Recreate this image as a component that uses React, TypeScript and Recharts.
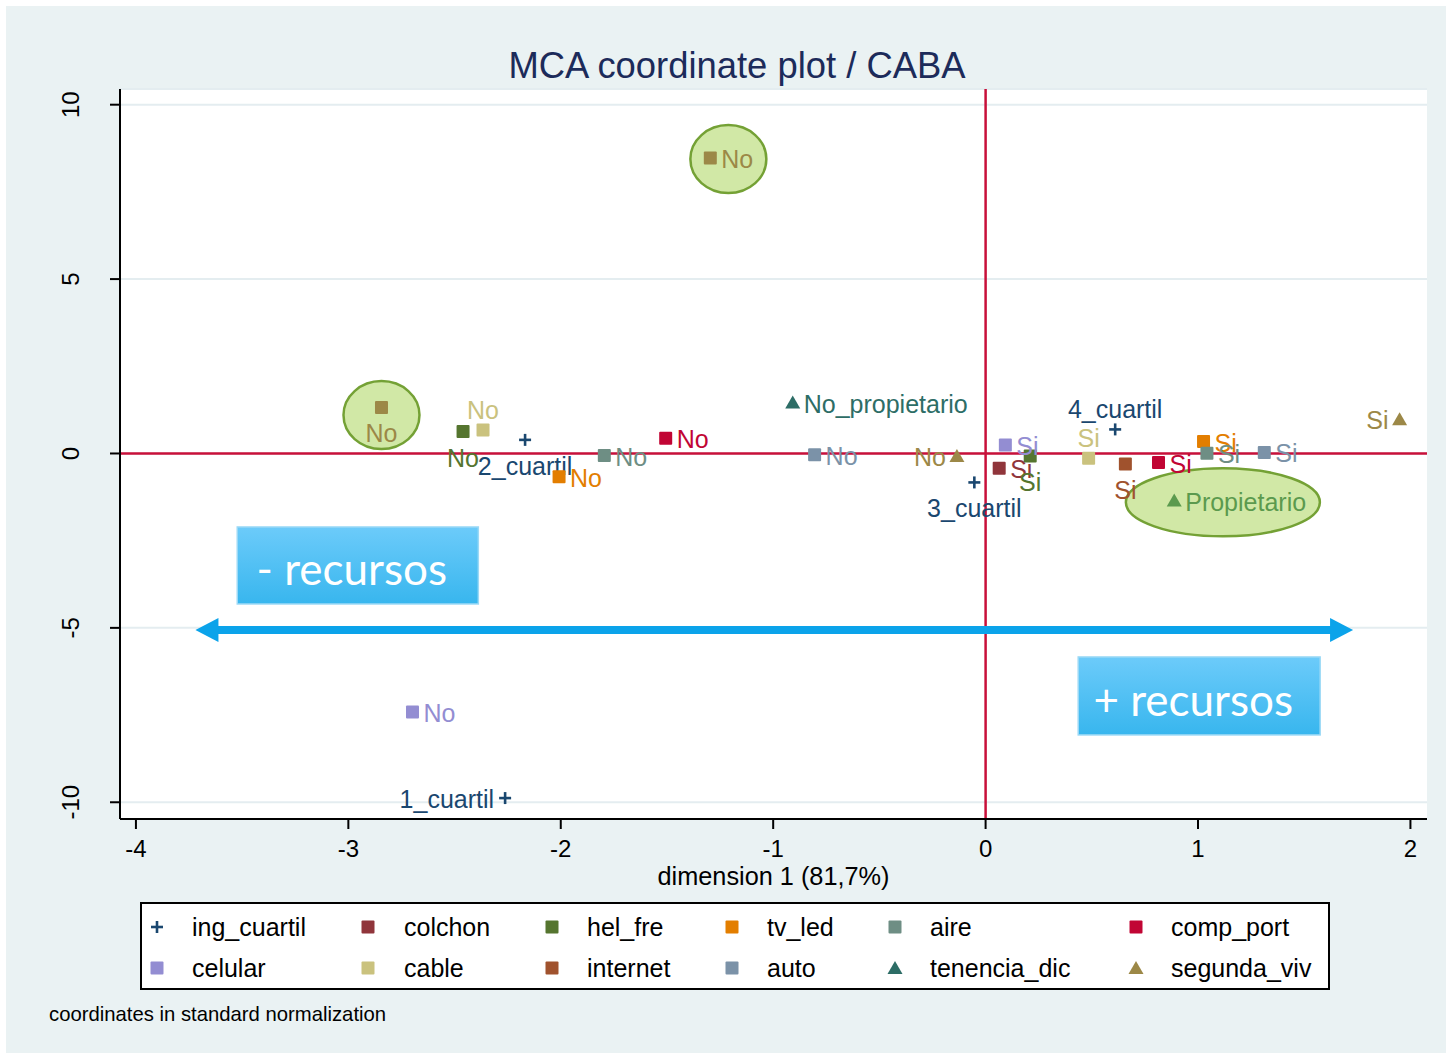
import React from "react";
import {
  ScatterChart,
  Scatter,
  XAxis,
  YAxis,
  CartesianGrid,
  ReferenceLine,
  ReferenceArea,
  ReferenceDot,
  Legend,
  Label,
} from "recharts";

// MCA coordinates
const variables = [
  "ing_cuartil", "colchon", "hel_fre", "tv_led", "aire", "comp_port",
  "celular", "cable", "internet", "auto", "tenencia_dic", "segunda_viv",
];
const levels = [
  ["1_cuartil", "2_cuartil", "3_cuartil", "4_cuartil"],
  ["No", "Si"], ["No", "Si"], ["No", "Si"], ["No", "Si"], ["No", "Si"],
  ["No", "Si"], ["No", "Si"], ["No", "Si"], ["No", "Si"],
  ["No_propietario", "Propietario"],
  ["No", "Si"],
];
const dim1 = [
  [-2.262, -2.168, -0.053, 0.61],
  [-1.296, 0.064],
  [-2.46, 0.21],
  [-2.008, 1.026],
  [-1.795, 1.042],
  [-1.506, 0.814],
  [-2.698, 0.093],
  [-2.366, 0.485],
  [-2.844, 0.658],
  [-0.805, 1.312],
  [-0.908, 0.888],
  [-0.135, 1.949],
];
const dim2 = [
  [-9.88, 0.39, -0.83, 0.69],
  [8.47, -0.42],
  [0.63, -0.07],
  [-0.67, 0.34],
  [-0.06, 0.01],
  [0.44, -0.26],
  [-7.41, 0.24],
  [0.67, -0.14],
  [1.32, -0.3],
  [-0.04, 0.03],
  [1.46, -1.35],
  [-0.07, 0.98],
];
const xTicks = [-4, -3, -2, -1, 0, 1, 2];
const yTicks = [-10, -5, 0, 5, 10];

// annotations (data coordinates)
const highlightX = [-1.211, -2.844, 1.117];
const highlightY = [8.44, 1.1, -1.4];
const arrowFrom = -3.72;
const arrowTo = 1.73;
const arrowY = -5.06;
const boxTexts = ["- recursos", "+ recursos"];
const boxX = [[-3.523, -2.388], [0.436, 1.575]];
const boxY = [[-4.315, -2.107], [-8.07, -5.834]];

// styles
const FONT = '"Liberation Sans", Arial, Helvetica, sans-serif';
const seriesColors = [
  "#1a476f", "#90353b", "#55752f", "#e37e00", "#6e8e84", "#c10534",
  "#938dd2", "#cac27e", "#a0522d", "#7b92a8", "#2d6d66", "#9c8847",
];
const markerKind = [
  "plus", "square", "square", "square", "square", "square",
  "square", "square", "square", "square", "triangle", "triangle",
];
const labelSide = [
  ["left", "below", "below", "above"],
  ["right", "right"],
  ["below", "below"],
  ["right", "right"],
  ["right", "right"],
  ["right", "right"],
  ["right", "right"],
  ["above", "above"],
  ["below", "below"],
  ["right", "right"],
  ["right", "right"],
  ["left", "left"],
];
const colorOverride: Record<string, string> = {
  "colchon:No": "#9c8847",
  "internet:No": "#9c8847",
  "tenencia_dic:Propietario": "#5b9a4e",
};
const highlightSize = [[38, 34], [38, 34], [97, 34]];
const refRed = "#c8103a";
const arrowBlue = "#0ba3ea";

function drawMark(kind: string, cx: number, cy: number, color: string) {
  if (kind === "plus") {
    return (
      <g>
        <line x1={cx - 6} y1={cy} x2={cx + 6} y2={cy} stroke={color} strokeWidth={2.6} />
        <line x1={cx} y1={cy - 6} x2={cx} y2={cy + 6} stroke={color} strokeWidth={2.6} />
      </g>
    );
  }
  if (kind === "triangle") {
    return (
      <polygon
        points={`${cx},${cy - 7} ${cx + 7.5},${cy + 6} ${cx - 7.5},${cy + 6}`}
        fill={color}
      />
    );
  }
  return <rect x={cx - 6.5} y={cy - 6.5} width={13} height={13} rx={1} fill={color} />;
}

function makeShape(kind: string) {
  return (props: any) => {
    const { cx, cy, payload } = props;
    const color = payload.color;
    let tx = cx + 11;
    let ty = cy + 1;
    let anchor: "start" | "middle" | "end" = "start";
    if (payload.side === "left") {
      tx = cx - 11;
      anchor = "end";
    } else if (payload.side === "above") {
      tx = cx;
      ty = cy - 20;
      anchor = "middle";
    } else if (payload.side === "below") {
      tx = cx;
      ty = cy + 26;
      anchor = "middle";
    }
    return (
      <g>
        {drawMark(kind, cx, cy, color)}
        <text
          x={tx}
          y={ty}
          textAnchor={anchor}
          dominantBaseline="central"
          fontSize={25}
          fontFamily={FONT}
          fill={color}
        >
          {payload.name}
        </text>
      </g>
    );
  };
}

const seriesData = variables.map((v, i) =>
  levels[i].map((name, j) => ({
    x: dim1[i][j],
    y: dim2[i][j],
    name,
    side: labelSide[i][j],
    color: colorOverride[`${v}:${name}`] ?? seriesColors[i],
  }))
);

const YTick = (props: any) => {
  const { y, payload } = props;
  const bx = 79;
  return (
    <text
      x={bx}
      y={y}
      transform={`rotate(-90 ${bx} ${y})`}
      textAnchor="middle"
      fontSize={24}
      fontFamily={FONT}
      fill="#000"
    >
      {payload.value}
    </text>
  );
};

const ArrowShape = (props: any) => {
  const { x1, y1, x2, y2 } = props;
  const head = 23;
  const half = 12;
  return (
    <g>
      <line x1={x1 + head - 2} y1={y1} x2={x2 - head + 2} y2={y2} stroke={arrowBlue} strokeWidth={8} />
      <polygon points={`${x1},${y1} ${x1 + head},${y1 - half} ${x1 + head},${y1 + half}`} fill={arrowBlue} />
      <polygon points={`${x2},${y2} ${x2 - head},${y2 - half} ${x2 - head},${y2 + half}`} fill={arrowBlue} />
    </g>
  );
};

function makeBox(text: string, id: string) {
  return (props: any) => {
    const { x, y, width, height } = props;
    return (
      <g>
        <defs>
          <linearGradient id={id} x1="0" y1="0" x2="0" y2="1">
            <stop offset="0%" stopColor="#6ccbfa" />
            <stop offset="100%" stopColor="#38b6ee" />
          </linearGradient>
        </defs>
        <rect x={x} y={y} width={width} height={height} fill={`url(#${id})`} stroke="#9bd9f6" strokeWidth={1.5} />
        <text
          x={x + width / 2 - 6}
          y={y + height / 2 + 3}
          textAnchor="middle"
          dominantBaseline="central"
          fontSize={44}
          fontFamily="Lato, 'Open Sans', sans-serif"
          fill="#fff"
        >
          {text}
        </text>
      </g>
    );
  };
}

const LegendBox = () => (
  <div
    style={{
      position: "relative",
      width: 1190,
      height: 88,
      border: "2px solid #000",
      boxSizing: "border-box",
      background: "#fff",
      fontFamily: FONT,
      fontSize: 25,
      color: "#000",
    }}
  >
    {variables.map((v, i) => {
      const row = Math.floor(i / 6);
      const col = i % 6;
      const markX = [17, 228, 412, 592, 755, 996][col];
      const textX = [52, 264, 447, 627, 790, 1031][col];
      const cy = row === 0 ? 23 : 64;
      return (
        <React.Fragment key={v}>
          <svg
            width={20}
            height={20}
            style={{ position: "absolute", left: markX - 12, top: cy - 10 }}
          >
            {drawMark(markerKind[i], 10, 10, seriesColors[i])}
          </svg>
          <div style={{ position: "absolute", left: textX - 2, top: cy - 15, lineHeight: "30px", whiteSpace: "nowrap" }}>
            {v}
          </div>
        </React.Fragment>
      );
    })}
  </div>
);

export default function App() {
  return (
    <div style={{ position: "absolute", left: 0, top: 0, width: 1452, height: 1059, background: "#fff" }}>
      <div style={{ position: "absolute", left: 6, top: 6, width: 1440, height: 1047, background: "#eaf2f3" }} />
      <div
        style={{
          position: "absolute",
          left: 237,
          width: 1000,
          top: 45,
          textAlign: "center",
          fontFamily: FONT,
          fontSize: 36.4,
          lineHeight: "42px",
          color: "#1c2b5a",
        }}
      >
        MCA coordinate plot / CABA
      </div>
      <div style={{ position: "absolute", left: 49, top: 1003, fontFamily: FONT, fontSize: 20.3, lineHeight: "22px", color: "#000" }}>
        coordinates in standard normalization
      </div>
      <div style={{ position: "absolute", left: 0, top: 0 }}>
        <ScatterChart width={1452} height={1059} margin={{ top: 89, right: 25, bottom: 170, left: 60 }}>
          <CartesianGrid vertical={false} stroke="#e4edf0" strokeWidth={2} fill="#fff" />
          <XAxis
            type="number"
            dataKey="x"
            domain={[-4.075, 2.078]}
            ticks={xTicks}
            allowDataOverflow
            height={70}
            tickSize={10}
            tickMargin={11}
            axisLine={{ stroke: "#000", strokeWidth: 2 }}
            tickLine={{ stroke: "#000", strokeWidth: 2 }}
            tick={{ fontSize: 24, fill: "#000", fontFamily: FONT }}
          >
            <Label value="dimension 1 (81,7%)" position="insideBottom" offset={4} fontSize={25.3} fill="#000" fontFamily={FONT} />
          </XAxis>
          <YAxis
            type="number"
            dataKey="y"
            domain={[-10.48, 10.45]}
            ticks={yTicks}
            allowDataOverflow
            width={60}
            tickSize={10}
            axisLine={{ stroke: "#000", strokeWidth: 2 }}
            tickLine={{ stroke: "#000", strokeWidth: 2 }}
            tick={<YTick />}
          />
          <ReferenceLine y={0} stroke={refRed} strokeWidth={2.5} />
          <ReferenceLine x={0} stroke={refRed} strokeWidth={2.5} />
          {highlightX.map((hx, i) => (
            <ReferenceDot
              key={`hl${i}`}
              x={hx}
              y={highlightY[i]}
              r={1}
              ifOverflow="visible"
              shape={(p: any) => (
                <ellipse
                  cx={p.cx}
                  cy={p.cy}
                  rx={highlightSize[i][0]}
                  ry={highlightSize[i][1]}
                  fill="#d1e8a6"
                  stroke="#74a135"
                  strokeWidth={2.5}
                />
              )}
            />
          ))}
          <ReferenceLine
            segment={[
              { x: arrowFrom, y: arrowY },
              { x: arrowTo, y: arrowY },
            ]}
            ifOverflow="visible"
            shape={ArrowShape}
          />
          {boxTexts.map((t, i) => (
            <ReferenceArea
              key={t}
              x1={boxX[i][0]}
              x2={boxX[i][1]}
              y1={boxY[i][0]}
              y2={boxY[i][1]}
              ifOverflow="visible"
              shape={makeBox(t, `boxgrad${i}`)}
            />
          ))}
          {variables.map((v, i) => (
            <Scatter
              key={v}
              name={v}
              data={seriesData[i]}
              fill={seriesColors[i]}
              isAnimationActive={false}
              shape={makeShape(markerKind[i])}
            />
          ))}
          <Legend
            layout="horizontal"
            verticalAlign="middle"
            align="center"
            content={<LegendBox />}
            wrapperStyle={{ left: 140, top: 902, width: 1190, height: 88 }}
          />
        </ScatterChart>
      </div>
    </div>
  );
}
